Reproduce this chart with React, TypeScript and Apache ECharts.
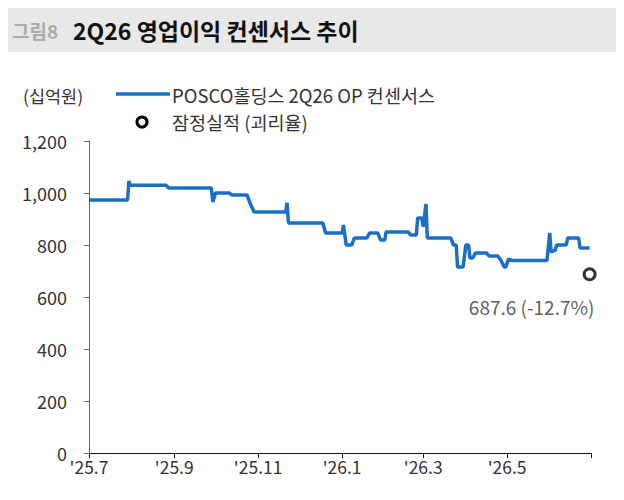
import React, { useEffect, useRef } from "react";
import * as echarts from "echarts";

const titlePrefix = "그림8";
const titleText = "2Q26 영업이익 컨센서스 추이";
const unitLabel = "(십억원)";
const seriesName = "POSCO홀딩스 2Q26 OP 컨센서스";
const actualName = "잠정실적 (괴리율)";

const opDates = [
  "2025-07-01", "2025-07-29", "2025-07-30", "2025-07-31", "2025-08-26", "2025-08-28",
  "2025-09-28", "2025-09-29", "2025-10-01", "2025-10-11", "2025-10-13", "2025-10-24",
  "2025-10-26", "2025-10-29", "2025-11-21", "2025-11-22", "2025-11-23", "2025-12-18",
  "2025-12-20", "2026-01-01", "2026-01-02", "2026-01-04", "2026-01-08", "2026-01-10",
  "2026-01-19", "2026-01-21", "2026-01-27", "2026-01-29", "2026-02-01", "2026-02-02",
  "2026-02-18", "2026-02-20", "2026-02-24", "2026-02-25", "2026-02-28", "2026-03-01",
  "2026-03-03", "2026-03-04", "2026-03-21", "2026-03-23", "2026-03-25", "2026-03-26",
  "2026-03-30", "2026-04-01", "2026-04-03", "2026-04-04", "2026-04-06", "2026-04-08",
  "2026-04-16", "2026-04-18", "2026-04-24", "2026-04-26", "2026-04-29", "2026-04-30",
  "2026-05-02", "2026-05-05", "2026-05-30", "2026-06-01", "2026-06-02", "2026-06-05",
  "2026-06-06", "2026-06-13", "2026-06-14", "2026-06-22", "2026-06-23", "2026-06-30",
];
const opValues = [
  973, 973, 1046, 1030, 1030, 1019,
  1019, 965, 1000, 1000, 992, 992,
  962, 927, 927, 962, 885, 885,
  846, 846, 877, 800, 800, 827,
  827, 846, 846, 819, 819, 850,
  850, 838, 838, 904, 904, 870,
  958, 827, 827, 800, 800, 715,
  715, 800, 800, 750, 750, 769,
  769, 758, 758, 746, 715, 715,
  746, 740, 740, 846, 773, 780,
  800, 800, 827, 827, 788, 788,
];

const actualDate = "2026-06-30";
const actualValue = 687.6;
const actualGap = "-12.7%";

const xTickDates = ["2025-07-01", "2025-09-01", "2025-11-01", "2026-01-01", "2026-03-01", "2026-05-01", "2026-07-01"];
const xLabelDates = ["2025-07-01", "2025-09-01", "2025-11-01", "2026-01-01", "2026-03-01", "2026-05-01"];
const xTickLabels = ["'25.7", "'25.9", "'25.11", "'26.1", "'26.3", "'26.5"];

const ts = (s: string) => {
  const [y, m, d] = s.split("-").map(Number);
  return new Date(y, m - 1, d).getTime();
};

const FONT = "'Noto Sans CJK KR', 'Noto Sans', sans-serif";
const LINE_COLOR = "#1a6fc9";

export default function App() {
  const ref = useRef<HTMLDivElement>(null);
  useEffect(() => {
    if (!ref.current) return;
    const chart = echarts.init(ref.current, undefined, { renderer: "svg" });
    const labelMap: Record<number, string> = {};
    xLabelDates.forEach((d, i) => (labelMap[ts(d)] = xTickLabels[i]));

    chart.setOption({
      animation: false,
      textStyle: { fontFamily: FONT },
      graphic: [
        {
          type: "rect",
          shape: { x: 3, y: 5, width: 621, height: 47 },
          style: { fill: "#e8e8e8" },
          silent: true,
        },
        {
          type: "text",
          x: 12,
          y: 30,
          style: {
            text: titlePrefix,
            fontSize: 19,
            fontWeight: "bold",
            fill: "#ababab",
            fontFamily: FONT,
            verticalAlign: "middle",
          },
        },
        {
          type: "text",
          x: 73,
          y: 30,
          style: {
            text: titleText,
            fontSize: 23,
            fontWeight: "bold",
            fill: "#111",
            fontFamily: FONT,
            verticalAlign: "middle",
          },
        },
        {
          type: "text",
          x: 23,
          y: 95,
          style: {
            text: unitLabel,
            fontSize: 17.5,
            fill: "#333",
            fontFamily: FONT,
            verticalAlign: "middle",
          },
        },
        {
          type: "line",
          shape: { x1: 116, y1: 94, x2: 170, y2: 94 },
          style: { stroke: LINE_COLOR, lineWidth: 3.5 },
        },
        {
          type: "text",
          x: 172,
          y: 95,
          style: {
            text: seriesName,
            fontSize: 18.5,
            fill: "#333",
            fontFamily: FONT,
            verticalAlign: "middle",
          },
        },
        {
          type: "circle",
          shape: { cx: 142, cy: 122, r: 5 },
          style: { fill: "#fff", stroke: "#000", lineWidth: 3 },
        },
        {
          type: "text",
          x: 172,
          y: 122,
          style: {
            text: actualName,
            fontSize: 18.5,
            fill: "#333",
            fontFamily: FONT,
            verticalAlign: "middle",
          },
        },
      ],
      grid: { left: 89, right: 33, top: 141, bottom: 47, containLabel: false },
      xAxis: {
        type: "value",
        min: ts(xTickDates[0]),
        max: ts(xTickDates[xTickDates.length - 1]),
        axisLine: { show: true, lineStyle: { color: "#111", width: 1 } },
        axisTick: {
          show: true,
          length: 5,
          customValues: xTickDates.map(ts),
          lineStyle: { color: "#111" },
        },
        axisLabel: {
          customValues: xLabelDates.map(ts),
          formatter: (v: number) => labelMap[v] ?? "",
          fontSize: 17.5,
          color: "#333",
          margin: 5,
          fontFamily: FONT,
        },
        splitLine: { show: false },
      },
      yAxis: {
        type: "value",
        min: 0,
        max: 1200,
        interval: 200,
        axisLine: { show: true, lineStyle: { color: "#666", width: 1 } },
        axisTick: { show: true, length: 5, lineStyle: { color: "#666" } },
        axisLabel: {
          fontSize: 18,
          color: "#333",
          margin: 22,
          fontFamily: FONT,
          formatter: (v: number) => v.toLocaleString("en-US"),
        },
        splitLine: { show: false },
      },
      series: [
        {
          name: seriesName,
          type: "line",
          symbol: "none",
          data: opDates.map((d, i) => [ts(d), opValues[i]]),
          lineStyle: { color: LINE_COLOR, width: 3.5 },
          itemStyle: { color: LINE_COLOR },
          z: 2,
        },
        {
          name: actualName,
          type: "scatter",
          symbol: "circle",
          symbolSize: 11,
          data: [[ts(actualDate), actualValue]],
          itemStyle: { color: "#fff", borderColor: "#000", borderWidth: 3 },
          label: {
            show: true,
            position: "bottom",
            offset: [-58, 11],
            formatter: () => `${actualValue} (${actualGap})`,
            fontSize: 19,
            color: "#333",
            fontFamily: FONT,
          },
          z: 3,
        },
      ],
    });
    return () => chart.dispose();
  }, []);

  return <div ref={ref} style={{ width: 624, height: 500, margin: -8 }} />;
}
